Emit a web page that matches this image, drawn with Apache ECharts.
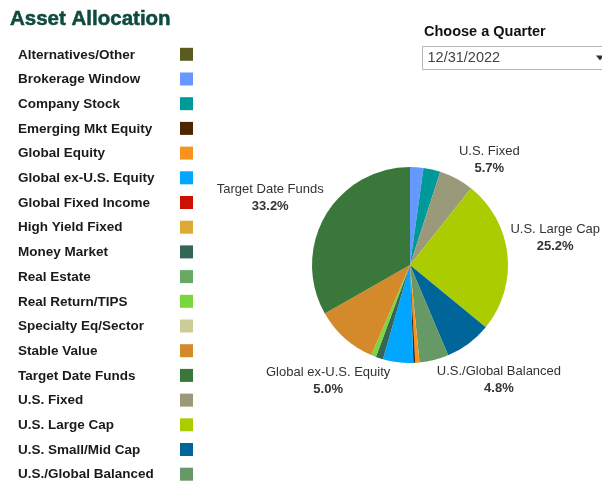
<!DOCTYPE html>
<html><head><meta charset="utf-8">
<script src="https://cdn.jsdelivr.net/npm/echarts@6/dist/echarts.min.js"></script>
<style>html,body{margin:0;padding:0;background:#fff}#c{width:602px;height:485px}</style>
</head><body><div id="c"></div>
<script>
// ---- data ----
const categories = ['Alternatives/Other','Brokerage Window','Company Stock','Emerging Mkt Equity','Global Equity','Global ex-U.S. Equity','Global Fixed Income','High Yield Fixed','Money Market','Real Estate','Real Return/TIPS','Specialty Eq/Sector','Stable Value','Target Date Funds','U.S. Fixed','U.S. Large Cap','U.S. Small/Mid Cap','U.S./Global Balanced'];
const legendColors = ['#5b5b1f','#6699ff','#009999','#4d2600','#f7941d','#00a6ff','#cc1100','#ddaa33','#336655','#66aa66','#7ad63f','#cccc99','#d4892a','#3a773a','#9a9a7a','#aacc00','#006699','#669966'];
const sliceOrder = ['Brokerage Window','Company Stock','U.S. Fixed','U.S. Large Cap','U.S. Small/Mid Cap','U.S./Global Balanced','Global Equity','Emerging Mkt Equity','Global ex-U.S. Equity','Money Market','Real Return/TIPS','Stable Value','Target Date Funds'];
const sliceValues = [2.2, 2.8, 5.7, 25.2, 7.7, 4.8, 0.7, 0.3, 5.0, 1.2, 0.8, 10.3, 33.2];
const labeledSlices = ['U.S. Fixed','U.S. Large Cap','U.S./Global Balanced','Global ex-U.S. Equity','Target Date Funds'];
const titleText = 'Asset Allocation';
const quarterTitle = 'Choose a Quarter';
const quarterValue = '12/31/2022';

// ---- chart ----
const FONT = '"Liberation Sans", Arial, sans-serif';
const CX = 410, CY = 265, R = 98, LABEL_R = 142;
const chart = echarts.init(document.getElementById('c'), null, {renderer: 'canvas'});
const colorOf = n => legendColors[categories.indexOf(n)];
const data = sliceOrder.map((n, i) => ({name: n, value: sliceValues[i], itemStyle: {color: colorOf(n)}, label: {show: labeledSlices.includes(n)}}))
  .concat(categories.filter(n => !sliceOrder.includes(n)).map(n => ({name: n, value: 0, itemStyle: {color: colorOf(n)}, label: {show: false}})));
const total = sliceValues.reduce((a, b) => a + b, 0);
const midAngle = {};
let cum = 0;
sliceOrder.forEach((n, i) => { midAngle[n] = (cum + sliceValues[i] / 2) / total * 2 * Math.PI; cum += sliceValues[i]; });
const labelNudge = {
  'U.S. Fixed': [12, 20],
  'U.S. Large Cap': [4, -12.5],
  'U.S./Global Balanced': [54, -23],
  'Global ex-U.S. Equity': [-64.5, -25],
  'Target Date Funds': [-17, 4.5]
};

const legendCommon = {
  orient: 'vertical', top: 47.8, height: 440, padding: 0, itemHeight: 13,
  icon: 'rect', selectedMode: false, data: categories
};

chart.setOption({
  animation: false,
  legend: [
    Object.assign({}, legendCommon, {
      left: 13, itemWidth: 0, itemGap: 10.7, itemStyle: {opacity: 0},
      textStyle: {fontFamily: FONT, fontSize: 13.5, fontWeight: 'bold', color: '#1a1a1a', lineHeight: 13}
    }),
    Object.assign({}, legendCommon, {
      left: 180, itemWidth: 13, itemGap: 11.7, formatter: () => '',
      textStyle: {fontFamily: FONT, fontSize: 13.5, lineHeight: 13}
    })
  ],
  series: [{
    type: 'pie',
    center: [CX, CY],
    radius: R,
    startAngle: 90,
    clockwise: true,
    data: data,
    itemStyle: {borderWidth: 0},
    emphasis: {disabled: true},
    label: {
      show: false,
      position: 'inside',
      formatter: p => '{n|' + p.name + '}\n{p|' + p.value.toFixed(1) + '%}',
      rich: {
        n: {fontFamily: FONT, fontSize: 13, color: '#333333', lineHeight: 17, align: 'center'},
        p: {fontFamily: FONT, fontSize: 13, fontWeight: 'bold', color: '#333333', lineHeight: 17, align: 'center'}
      }
    },
    labelLine: {show: false},
    labelLayout: function (p) {
      const n = data[p.dataIndex].name;
      if (!labeledSlices.includes(n)) return {};
      const a = midAngle[n], nd = labelNudge[n];
      return {x: CX + LABEL_R * Math.sin(a) + nd[0], y: CY - LABEL_R * Math.cos(a) + nd[1], align: 'center', verticalAlign: 'middle'};
    }
  }],
  graphic: [
    {type: 'text', x: 10, y: 19, style: {text: titleText, font: 'bold 20.5px ' + FONT, fill: '#0e4b3e', stroke: '#0e4b3e', lineWidth: 0.5, align: 'left', verticalAlign: 'middle', textAlign: 'left', textVerticalAlign: 'middle'}},
    {type: 'text', x: 424, y: 32, style: {text: quarterTitle, font: 'bold 14.5px ' + FONT, fill: '#111111', align: 'left', verticalAlign: 'middle', textAlign: 'left', textVerticalAlign: 'middle'}},
    {type: 'rect', shape: {x: 422.5, y: 46.5, width: 200, height: 23}, style: {fill: '#ffffff', stroke: '#b5b5b5', lineWidth: 1}},
    {type: 'text', x: 427.5, y: 58, style: {text: quarterValue, font: '14.5px ' + FONT, fill: '#444444', align: 'left', verticalAlign: 'middle', textAlign: 'left', textVerticalAlign: 'middle'}},
    {type: 'polygon', shape: {points: [[596, 55.5], [604, 55.5], [600, 60.5]]}, style: {fill: '#333333'}}
  ]
});
</script>
</body></html>
